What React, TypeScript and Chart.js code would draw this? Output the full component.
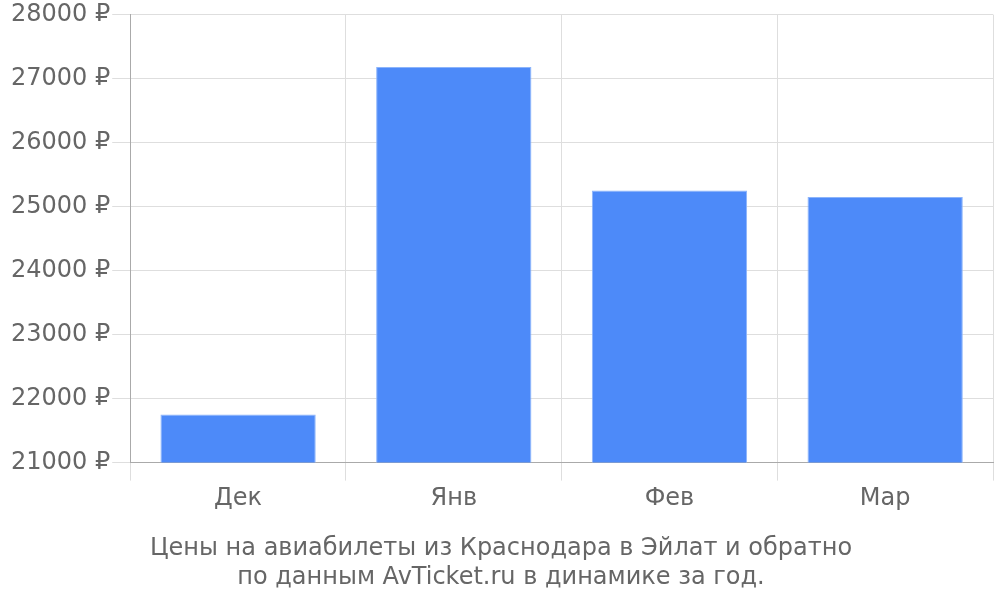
import React, { useEffect, useRef } from "react";
import { Chart, registerables } from "chart.js";

Chart.register(...registerables);

const categories = ["Дек", "Янв", "Фев", "Мар"];
const prices = [21750, 27180, 25250, 25150];
const titleLines = [
  "Цены на авиабилеты из Краснодара в Эйлат и обратно",
  "по данным AvTicket.ru в динамике за год.",
];

export default function App() {
  const ref = useRef<HTMLCanvasElement>(null);
  useEffect(() => {
    const ctx = ref.current!;
    const chart = new Chart(ctx, {
      type: "bar",
      data: {
        labels: categories,
        datasets: [
          {
            data: prices,
            backgroundColor: "#4d8af9",
            borderColor: "#8cb4fb",
            borderWidth: 1,
          },
        ],
      },
      options: {
        animation: false,
        responsive: true,
        maintainAspectRatio: false,
        layout: { padding: { top: 0, right: 7, left: 9, bottom: 5 } },
        plugins: {
          legend: { display: false },
          tooltip: { enabled: false },
          title: {
            display: true,
            position: "bottom",
            text: titleLines,
            color: "#666",
            font: { family: "DejaVu Sans", size: 24, weight: "normal", lineHeight: 1.2 },
            padding: { top: 17, bottom: 3 },
          },
        },
        scales: {
          x: {
            grid: { color: "#dedede", tickLength: 18, offset: true },
            border: { color: "#aaaaaa" },
            ticks: { color: "#666", font: { family: "DejaVu Sans", size: 24 }, padding: 4 },
          },
          y: {
            min: 21000,
            max: 28000,
            grid: { color: "#dedede", tickLength: 18 },
            border: { color: "#aaaaaa" },
            ticks: {
              stepSize: 1000,
              color: "#666",
              font: { family: "DejaVu Sans", size: 24, lineHeight: 1.05 },
              padding: 2,
              callback: (v: any) => v + " ₽",
            },
          },
        },
      },
    });
    return () => chart.destroy();
  }, []);
  return (
    <div style={{ position: "absolute", left: 0, top: 0, width: 1000, height: 600 }}>
      <canvas ref={ref} />
    </div>
  );
}
